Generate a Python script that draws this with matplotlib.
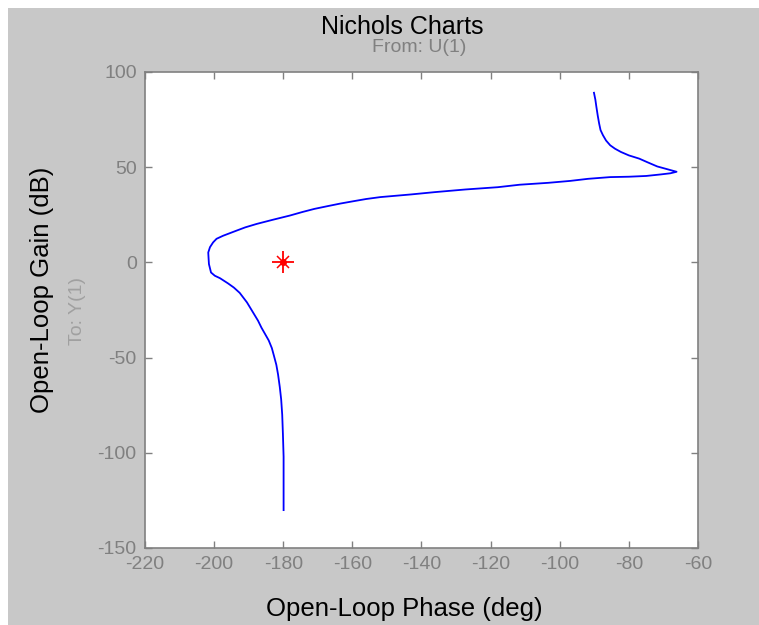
import matplotlib
matplotlib.use("Agg")
import matplotlib.pyplot as plt
from matplotlib.patches import Rectangle

# Data (phase in deg, gain in dB)
phase = [-90.1, -89.7, -89.4, -89.0, -88.6, -88.2, -87.5, -86.6, -85.4,
         -84.0, -82.3, -80.0, -77.0, -74.5, -71.8, -69.0, -66.2,
         -68.0, -70.8, -75.0, -80.0, -85.4, -91.8, -97.0, -103.3, -111.6,
         -117.9, -127.3, -136.2, -143.0, -151.9, -156.0, -159.8, -163.5,
         -167.3, -171.0, -174.4, -178.1, -183.0, -187.7, -191.0, -193.5,
         -197.4, -199.3, -200.3, -201.2, -201.7, -201.6, -201.5, -200.9,
         -199.8, -198.3, -196.0, -194.3, -192.6, -190.5, -188.7, -187.3,
         -186.3, -185.2, -184.2, -183.3, -182.7, -182.0, -181.5, -181.0,
         -180.6, -180.3, -180.1, -179.9, -179.9]
gain = [89.1, 85.5, 81.7, 77.0, 72.9, 69.5, 66.8, 64.0, 61.5,
        59.7, 58.0, 56.2, 54.5, 52.5, 50.4, 49.0, 47.6,
        46.8, 46.2, 45.4, 45.0, 44.8, 43.9, 42.8, 41.8, 40.8,
        39.5, 38.3, 36.9, 35.7, 34.3, 33.3, 32.1, 30.9,
        29.5, 28.1, 26.5, 24.6, 22.4, 20.2, 18.4, 16.7,
        14.0, 12.4, 10.5, 8.0, 5.2, 2.0, -0.9, -5.3,
        -7.0, -8.3, -11.0, -13.2, -16.0, -21.0, -26.4, -30.6,
        -34.3, -37.8, -41.0, -45.0, -49.0, -53.8, -58.9, -65.5,
        -72.0, -80.0, -90.0, -102.0, -130.1]
crit_phase = [-180]
crit_gain = [0]

xticks = [-220, -200, -180, -160, -140, -120, -100, -80, -60]
yticks = [-150, -100, -50, 0, 50, 100]

W, H = 759, 625
fig = plt.figure(figsize=(W / 100, H / 100), dpi=100, facecolor="white")
fig.patches.append(Rectangle((8 / W, 0), 1 - 8 / W, 1 - 8 / H,
                             transform=fig.transFigure, facecolor="#c8c8c8",
                             edgecolor="none", zorder=-10))

font = ["Liberation Sans Narrow", "Liberation Sans", "DejaVu Sans"]
plt.rcParams["font.family"] = font
plt.rcParams["axes.unicode_minus"] = False

ax = fig.add_axes([145 / W, 1 - 548 / H, 553 / W, 476 / H])
ax.set_facecolor("white")
ax.plot(phase, gain, color="#0000ff", lw=1.3)
ax.plot(crit_phase, crit_gain, marker="+", color="red", ms=16, mew=1.3,
        linestyle="none")
ax.plot(crit_phase, crit_gain, marker="x", color="red", ms=9, mew=1.1,
        linestyle="none")
ax.plot(crit_phase, crit_gain, marker="o", color="red", ms=4,
        linestyle="none")

ax.set_xlim(-220, -60)
ax.set_ylim(-150, 100)
ax.set_xticks(xticks)
ax.set_yticks(yticks)
ax.tick_params(direction="in", length=5, width=1, color="#808080",
               labelcolor="#808080", labelsize=14, top=True, right=True,
               pad=6)
for s in ax.spines.values():
    s.set_color("#808080")
    s.set_linewidth(1.2)

fig.text(402 / W, 1 - 27 / H, "Nichols Charts", ha="center", va="center",
         fontsize=18, color="black")
fig.text(419 / W, 1 - 48 / H, "From: U(1)", ha="center", va="center",
         fontsize=14, color="#808080")
fig.text(404 / W, 1 - 609 / H, "Open-Loop Phase (deg)", ha="center",
         va="center", fontsize=18.5, color="black")
fig.text(42 / W, 1 - 290 / H, "Open-Loop Gain (dB)", ha="center",
         va="center", rotation=90, fontsize=18.5, color="black")
fig.text(77 / W, 1 - 311 / H, "To: Y(1)", ha="center", va="center",
         rotation=90, fontsize=14, color="#a0a0a0")

fig.savefig("out.png", dpi=100, facecolor=fig.get_facecolor())
